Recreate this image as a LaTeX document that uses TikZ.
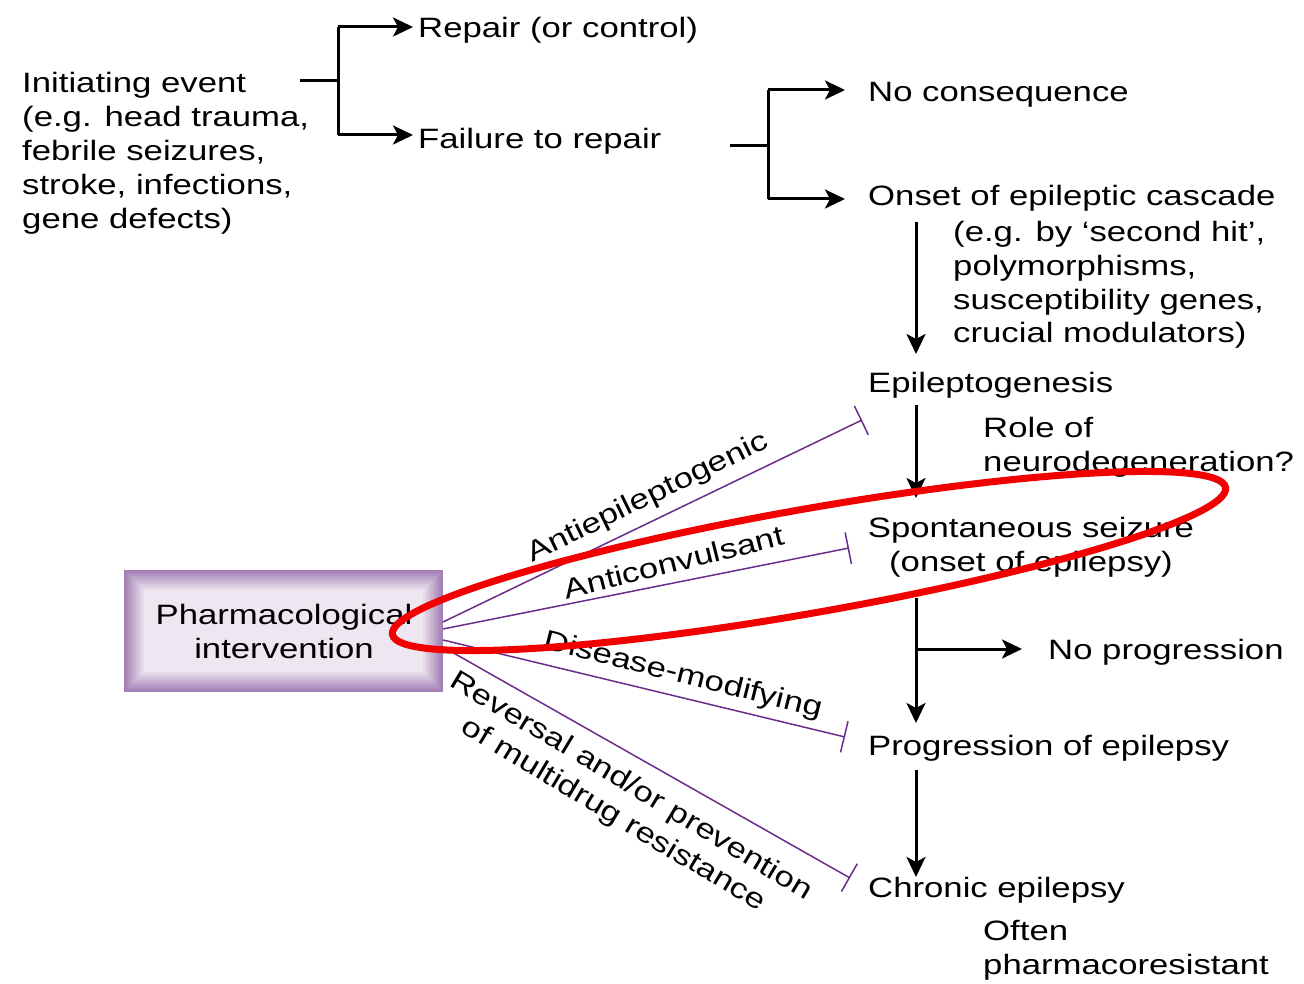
\documentclass[tikz,border=0pt]{standalone}
\usepackage{fontspec}
\setmainfont{Liberation Sans}[FakeStretch=1.24]
\usetikzlibrary{arrows.meta}
\definecolor{pur}{HTML}{6B2D8C}
\definecolor{boxout}{HTML}{A27FB4}
\definecolor{boxin}{HTML}{EEE7F2}
\definecolor{ovl}{HTML}{F20000}
\begin{document}
\begin{tikzpicture}[x=1pt,y=-1pt,
  every node/.style={font=\fontsize{28}{34}\selectfont, inner sep=0pt},
  txt/.style={anchor=base west, align=left},
  arr/.style={line width=3pt, -{Stealth[length=20pt,width=19pt,inset=5pt]}},
  ln/.style={line width=3pt},
  tbar/.style={pur, line width=1.5pt, -{Bar[width=32pt,line width=1.5pt]}},
  lab/.style={anchor=center, align=center}]
\fill[white] (0,0) rectangle (1304,984);
\useasboundingbox (0,0) rectangle (1304,984);

% text nodes (multi-line nodes anchored at the baseline of their last line)
\node[txt] (init) at (22,229) {Initiating event\\(e.g. head trauma,\\febrile seizures,\\stroke, infections,\\gene defects)};
\node[txt] (repair) at (418,38) {Repair (or control)};
\node[txt] (fail) at (418,149) {Failure to repair};
\node[txt] (nocons) at (868,102) {No consequence};
\node[txt] (onset) at (868,206) {Onset of epileptic cascade};
\node[txt] (eg) at (953,343) {(e.g. by ‘second hit’,\\polymorphisms,\\susceptibility genes,\\crucial modulators)};
\node[txt] (epi) at (868,392) {Epileptogenesis};
\node[txt] (role) at (983,471) {Role of\\neurodegeneration?};
\node[anchor=base, align=center] (spont) at (1031,571) {Spontaneous seizure\\(onset of epilepsy)};
\node[txt] (noprog) at (1048,659) {No progression};
\node[txt] (prog) at (868,755) {Progression of epilepsy};
\node[txt] (chron) at (868,897) {Chronic epilepsy};
\node[txt] (often) at (983,974) {Often\\pharmacoresistant};

% pharmacological box
\foreach \i in {0,...,10}{
  \pgfmathtruncatemacro\p{\i*10}
  \fill[boxin!\p!boxout] (124+2*\i,570+2*\i) rectangle (443-2*\i,692-2*\i);
}
\node[align=center] (pharm) at (284,631) {Pharmacological\\intervention};

% branch 1
\coordinate (b1s) at (300,81);
\coordinate (b1j) at (338,81);
\coordinate (b1t) at (338,27);
\coordinate (b1b) at (338,135);
\coordinate (b1te) at (413,27);
\coordinate (b1be) at (413,135);
\draw[ln] (b1s) -- (b1j);
\draw[ln] (b1t) -- (b1b);
\draw[arr] (b1t) -- (b1te);
\draw[arr] (b1b) -- (b1be);

% branch 2
\coordinate (b2s) at (730,146);
\coordinate (b2j) at (768,146);
\coordinate (b2t) at (768,90);
\coordinate (b2b) at (768,199);
\coordinate (b2te) at (845,90);
\coordinate (b2be) at (845,199);
\draw[ln] (b2s) -- (b2j);
\draw[ln] (b2t) -- (b2b);
\draw[arr] (b2t) -- (b2te);
\draw[arr] (b2b) -- (b2be);

% spine
\coordinate (v1a) at (916,222);
\coordinate (v1b) at (916,354);
\coordinate (v2a) at (916,405);
\coordinate (v2b) at (916,498);
\coordinate (v3a) at (916,598);
\coordinate (v3b) at (916,723);
\coordinate (v3j) at (916,649);
\coordinate (v3e) at (1022,649);
\coordinate (v4a) at (916,770);
\coordinate (v4b) at (916,877);
\draw[arr] (v1a) -- (v1b);
\draw[arr] (v2a) -- (v2b);
\draw[arr] (v3a) -- (v3b);
\draw[arr] (v3j) -- (v3e);
\draw[arr] (v4a) -- (v4b);

% inhibition lines
\coordinate (p1) at (443,622);
\coordinate (p2) at (443,629);
\coordinate (p3) at (443,640);
\coordinate (p4) at (443,647);
\coordinate (e1) at (862,420);
\coordinate (e2) at (849,548);
\coordinate (e3) at (845,737);
\coordinate (e4) at (850,878);
\draw[tbar] (p1) -- (e1);
\draw[tbar] (p2) -- (e2);
\draw[tbar] (p3) -- (e3);
\draw[tbar] (p4) -- (e4);

\node[lab, rotate=26] (l1) at (648,498) {Antiepileptogenic};
\node[lab, rotate=14] (l2) at (674,562) {Anticonvulsant};
\node[lab, rotate=-14] (l3) at (683,676) {Disease-modifying};
\node[lab, rotate=-31] (l4) at (622,801) {Reversal and/or prevention\\of multidrug resistance};

% red ellipse
\draw[ovl, line width=7pt, rotate around={10:(809,561)}] (809,561) ellipse [x radius=423pt, y radius=52pt];
\end{tikzpicture}
\end{document}
